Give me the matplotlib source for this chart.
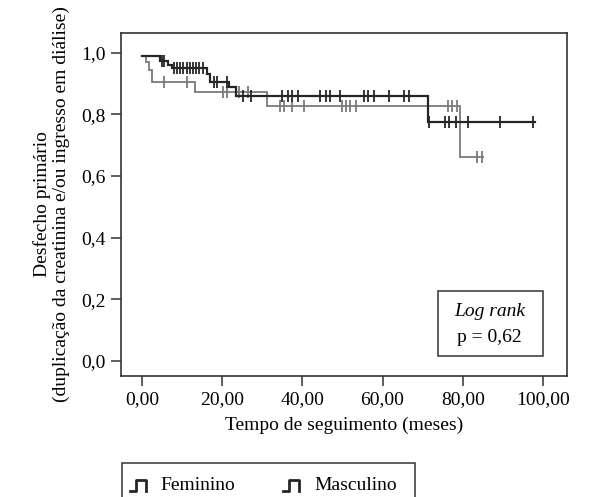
import numpy as np
import matplotlib

matplotlib.use("Agg")
import matplotlib.pyplot as plt
from matplotlib.lines import Line2D
from matplotlib.patches import Rectangle
from matplotlib.ticker import FuncFormatter

plt.rcParams["font.family"] = ["Liberation Serif", "DejaVu Serif"]

# Kaplan-Meier steps (time in months, survival)
fem_times = [0.0, 4.5, 6.5, 7.5, 16.3, 17.0, 21.8, 23.5, 71.3]
fem_surv = [0.99, 0.975, 0.96, 0.951, 0.93, 0.906, 0.89, 0.86, 0.777]
fem_end = 98.0
fem_censored = [5.0, 5.6, 7.9, 8.7, 9.5, 10.3, 11.1, 11.9, 12.7, 13.5, 14.3, 15.1,
                18.0, 18.8, 21.3, 25.3, 27.3, 35.0, 36.3, 37.5, 38.8, 44.5, 45.8,
                47.0, 49.3, 55.3, 56.5, 57.8, 61.5, 65.3, 66.5, 71.5, 75.5, 76.5,
                78.3, 81.3, 89.3, 97.5]

masc_times = [0.0, 1.0, 1.8, 2.5, 13.3, 31.3, 79.3]
masc_surv = [0.99, 0.97, 0.945, 0.906, 0.874, 0.828, 0.663]
masc_end = 85.0
masc_censored = [5.5, 11.3, 20.2, 21.3, 24.3, 26.5, 34.3, 35.5, 37.3, 40.5, 50.0,
                 51.0, 52.0, 53.3, 76.3, 77.3, 78.5, 83.5, 84.8]

x_ticks = [0, 20, 40, 60, 80, 100]
y_ticks = [0.0, 0.2, 0.4, 0.6, 0.8, 1.0]
group_labels = ["Feminino", "Masculino"]
log_rank_p = "0,62"

DARK = "#262626"
GRAY = "#7a7a7a"


def step_value(times, surv, t):
    idx = np.searchsorted(times, t, side="right") - 1
    return np.asarray(surv)[idx]


def draw_km(ax, times, surv, end, censored, color, lw):
    xs = list(times) + [end]
    ys = list(surv) + [surv[-1]]
    ax.step(xs, ys, where="post", color=color, linewidth=lw, solid_joinstyle="miter")
    cens = np.asarray(censored)
    ax.plot(cens, step_value(times, surv, cens), linestyle="none", marker="|",
            markersize=8, markeredgewidth=1.3, color=color)


fig = plt.figure(figsize=(5.93, 4.97), dpi=100)
ax = fig.add_axes([0.204, 0.243, 0.752, 0.691])

draw_km(ax, masc_times, masc_surv, masc_end, masc_censored, GRAY, 1.3)
draw_km(ax, fem_times, fem_surv, fem_end, fem_censored, DARK, 1.6)

ax.set_xlim(-5.25, 106)
ax.set_ylim(-0.05, 1.065)
ax.set_xticks(x_ticks)
ax.set_yticks(y_ticks)
ax.xaxis.set_major_formatter(FuncFormatter(lambda v, p: f"{v:.2f}".replace(".", ",")))
ax.yaxis.set_major_formatter(FuncFormatter(lambda v, p: f"{v:.1f}".replace(".", ",")))
ax.tick_params(direction="out", length=7, width=1.1, labelsize=14, color="#333333",
               pad=4)
for sp in ax.spines.values():
    sp.set_linewidth(1.2)
    sp.set_color("#333333")

ax.set_xlabel("Tempo de seguimento (meses)", fontsize=14, labelpad=6)
ax.set_ylabel("Desfecho primário\n(duplicação da creatinina e/ou ingresso em diálise)",
              fontsize=14, labelpad=8, linespacing=1.1)

# Log rank box
ax.add_patch(Rectangle((0.711, 0.058), 0.235, 0.189, transform=ax.transAxes,
                       fill=False, edgecolor="#333333", linewidth=1.1))
ax.text(0.826, 0.189, "Log rank", transform=ax.transAxes, ha="center", va="center",
        fontsize=14, style="italic")
ax.text(0.826, 0.114, f"p = {log_rank_p}", transform=ax.transAxes, ha="center",
        va="center", fontsize=14)

# legend box (partly cut by the bottom edge, as in the original)
W, H = 593.0, 497.0
fig.add_artist(Rectangle((122 / W, 1 - 505 / H), (415 - 122) / W, 42 / H,
                         transform=fig.transFigure, fill=False,
                         edgecolor="#333333", linewidth=1.1))
for gx, tx, label, col in [(130, 160, group_labels[0], DARK), (283, 314, group_labels[1], DARK)]:
    gxs = np.array([gx, gx + 6, gx + 6, gx + 16, gx + 16]) / W
    gys = 1 - np.array([491, 491, 480, 480, 491]) / H
    fig.add_artist(Line2D(gxs, gys, transform=fig.transFigure, color=col, linewidth=2.0))
    fig.text(tx / W, 1 - 485 / H, label, fontsize=14, va="center", ha="left")

fig.savefig("out.png", dpi=100)
